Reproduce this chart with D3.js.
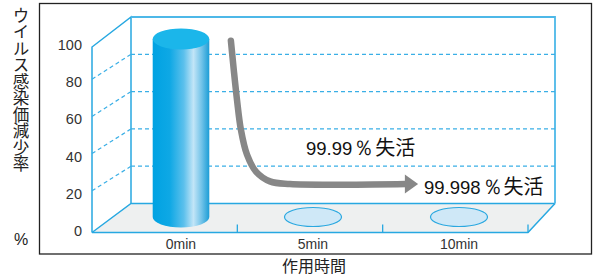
<!DOCTYPE html>
<html><head><meta charset="utf-8">
<script src="https://cdn.jsdelivr.net/npm/d3@7"></script>
<style>
html,body{margin:0;padding:0;background:#fff;}
svg{display:block;}
</style></head>
<body>
<script>
// ---- data ----
const categories = ["0min", "5min", "10min"];
const minutes = [0, 5, 10];
const values = [100, 0, 0];
const yTicks = [0, 20, 40, 60, 80, 100];
const gridValues = [20, 40, 60, 80];
const arrowT = [1.89, 2.0, 2.12, 2.27, 2.5, 2.84, 3.37, 4.13, 8.18];
const arrowV = [99, 82.5, 66, 49, 35, 25.5, 20, 18.5, 18.5];
const arrowTipT = 8.6;
const yTitle = "ウイルス感染価減少率";
const xTitle = "作用時間";
const unitLabel = "%";
const note1 = ["99.99", "％", "失活"];
const note2 = ["99.998", "％", "失活"];

// ---- layout ----
const W = 596, H = 278;
const blue = "#27a8e1";
const svg = d3.select("body").append("svg").attr("width", W).attr("height", H);
svg.append("rect").attr("width", W).attr("height", H).attr("fill", "#fff");

// scales
const frontBand = d3.scaleBand().domain(categories).range([92, 528]);
const xTime = d3.scaleLinear().domain([0, 5, 10]).range([181, 313, 459]);
const yFront = d3.scaleLinear().domain([0, 100]).range([231, 45]);
const yBack = d3.scaleLinear().domain([0, 100]).range([203.5, 17]);
const yMid = d3.scaleLinear().domain([0, 100]).range([217, 39]);

// outer frame
svg.append("rect").attr("x", 39.5).attr("y", 3.5).attr("width", 552).attr("height", 250.5)
  .attr("fill", "none").attr("stroke", "#222").attr("stroke-width", 1.3);

// floor
const fx0 = frontBand.range()[0], fx1 = frontBand.range()[1];
const bx0 = 131, bx1 = 555;
const fy0 = 232.5, by0 = yBack(0);
svg.append("path")
  .attr("d", `M${fx0},${fy0}L${fx1},${fy0}L${bx1},${by0}L${bx0},${by0}Z`)
  .attr("fill", "#eef0f0").attr("stroke", "none");

// walls
const g = svg.append("g").attr("fill", "none").attr("stroke", blue).attr("stroke-width", 1.5);
g.append("path").attr("d", `M${fx0},${fy0}L${fx1},${fy0}L${bx1},${by0}`);
g.append("path").attr("d", `M${fx0},${fy0}L${bx0},${by0}L${bx1},${by0}`);
g.append("path").attr("d", `M${fx0},${fy0}L${fx0},47L${bx0},${yBack(100)}L${bx0},${by0}`);
g.append("path").attr("d", `M${bx0},${yBack(100)}L${bx1},${yBack(100)}L${bx1},${by0}`)
  .attr("stroke", "#4db8e8").attr("stroke-width", 1.8);

// dashed grid
const grid = svg.append("g").attr("stroke", "#3aafe6").attr("stroke-width", 1.2)
  .attr("stroke-dasharray", "4,3").attr("fill", "none");
grid.selectAll("line.back").data(gridValues).join("line").attr("class", "back")
  .attr("x1", bx0).attr("x2", bx1).attr("y1", d => yBack(d)).attr("y2", d => yBack(d));
grid.selectAll("line.side").data(gridValues).join("line").attr("class", "side")
  .attr("x1", fx0).attr("x2", bx0).attr("y1", d => yFront(d) - 3).attr("y2", d => yBack(d));

// front ticks at band boundaries
const tickXs = categories.slice(1).map(c => frontBand(c)).concat([fx1]);
svg.append("g").selectAll("line").data(tickXs).join("line")
  .attr("x1", d => d).attr("x2", d => d).attr("y1", fy0).attr("y2", fy0 - 8)
  .attr("stroke", blue).attr("stroke-width", 1.3);

// y tick labels
svg.append("g").selectAll("text").data(yTicks).join("text")
  .attr("x", 82).attr("y", d => yFront(d) + 5)
  .attr("text-anchor", "end")
  .attr("font-family", "'Liberation Sans', Arial, sans-serif").attr("font-size", 14.5)
  .attr("fill", "#333").text(d => d);

// x labels
svg.append("g").selectAll("text").data(categories).join("text")
  .attr("x", (d, i) => xTime(minutes[i])).attr("y", 249)
  .attr("text-anchor", "middle")
  .attr("font-family", "'Liberation Sans', Arial, sans-serif").attr("font-size", 14)
  .attr("fill", "#333").text(d => d);

// cylinder gradient
const defs = svg.append("defs");
const grad = defs.append("linearGradient").attr("id", "cyl").attr("x1", "0").attr("x2", "1").attr("y1", "0").attr("y2", "0");
[["0%", "#00a2e2"], ["30%", "#0ea8e5"], ["55%", "#5cc0ec"], ["72%", "#c2e5f7"], ["86%", "#74c4e9"], ["100%", "#1c9dd6"]]
  .forEach(([o, c]) => grad.append("stop").attr("offset", o).attr("stop-color", c));

const rx = 28.3, ry = 10.5;
const marks = svg.append("g");
values.forEach((v, i) => {
  const cx = xTime(minutes[i]);
  if (v > 0) {
    const yt = yMid(v), yb = yMid(0);
    marks.append("path")
      .attr("d", `M${cx - rx},${yt}L${cx - rx},${yb}A${rx},${ry} 0 0 0 ${cx + rx},${yb}L${cx + rx},${yt}Z`)
      .attr("fill", "url(#cyl)");
    marks.append("ellipse").attr("cx", cx).attr("cy", yt).attr("rx", rx).attr("ry", ry)
      .attr("fill", "#1bb6ea");
  } else {
    marks.append("ellipse").attr("cx", cx).attr("cy", yMid(0)).attr("rx", 28.5).attr("ry", 9.5)
      .attr("fill", "#cfe8f7").attr("stroke", "#2aa8e0").attr("stroke-width", 1.2);
  }
});

// arrow
const arrowPts = arrowT.map((t, i) => [xTime(t), yMid(arrowV[i])]);
const line = d3.line().curve(d3.curveCatmullRom);
svg.append("path").attr("d", line(arrowPts)).attr("fill", "none")
  .attr("stroke", "#878787").attr("stroke-width", 6.5).attr("stroke-linecap", "round");
const last = arrowPts[arrowPts.length - 1];
const tipX = xTime(arrowTipT);
svg.append("path")
  .attr("d", `M${last[0] - 1},${last[1] - 9.5}L${tipX},${last[1]}L${last[0] - 1},${last[1] + 9.5}Z`)
  .attr("fill", "#878787");

// notes
function note(parts, x, y) {
  const t = svg.append("text").attr("x", x).attr("y", y).attr("fill", "#111");
  t.append("tspan").attr("font-family", "'Liberation Sans', Arial, sans-serif").attr("font-size", 18.5).text(parts[0]);
  t.append("tspan").attr("font-family", "'Liberation Sans', Arial, sans-serif").attr("font-size", 21)
    .attr("dx", 1).text(parts[1]);
  t.append("tspan").attr("font-family", "'Noto Sans CJK JP', sans-serif").attr("font-size", 20)
    .attr("dx", 1).text(parts[2]);
}
note(note1, 306, 155);
note(note2, 424, 194);

// axis titles
svg.append("text").attr("x", 21).attr("y", 7)
  .attr("font-family", "'Noto Sans CJK JP', sans-serif").attr("font-size", 16.5)
  .attr("fill", "#222")
  .style("writing-mode", "vertical-rl").style("text-orientation", "upright")
  .text(yTitle);
svg.append("text").attr("x", 21).attr("y", 245).attr("text-anchor", "middle")
  .attr("font-family", "'Liberation Sans', sans-serif").attr("font-size", 16)
  .attr("fill", "#222").text(unitLabel);
svg.append("text").attr("x", 314).attr("y", 272).attr("text-anchor", "middle")
  .attr("font-family", "'Noto Sans CJK JP', sans-serif").attr("font-size", 16)
  .attr("fill", "#222").text(xTitle);
</script>
</body></html>
